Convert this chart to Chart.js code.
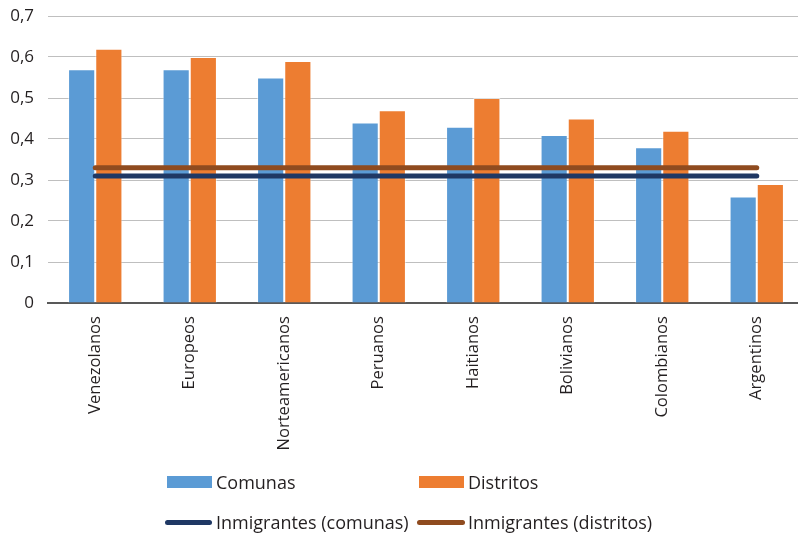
<!DOCTYPE html>
<html>
<head>
<meta charset="utf-8">
<script src="https://cdn.jsdelivr.net/npm/chart.js@4/dist/chart.umd.min.js"></script>
<style>
  html,body{margin:0;padding:0;background:#fff;overflow:hidden;}
  #wrap{position:relative;width:798px;height:536px;overflow:hidden;}
  canvas{position:absolute;left:0;top:0;}
  .lg{position:absolute;font-family:"Open Sans",sans-serif;font-size:18px;color:#231f20;line-height:22px;white-space:nowrap;}
  .sw{position:absolute;}
</style>
</head>
<body>
<div id="wrap">
  <canvas id="c" width="804" height="536"></canvas>
  <div class="sw" style="left:167px;top:476px;width:45px;height:12px;background:#5b9bd5;"></div>
  <div class="lg" style="left:216px;top:471px;">Comunas</div>
  <div class="sw" style="left:419px;top:476px;width:45px;height:12px;background:#ed7d31;"></div>
  <div class="lg" style="left:468px;top:471px;">Distritos</div>
  <div class="sw" style="left:165px;top:520px;width:47px;height:5px;border-radius:3px;background:#1f3864;"></div>
  <div class="lg" style="left:216px;top:511px;">Inmigrantes (comunas)</div>
  <div class="sw" style="left:417px;top:520px;width:48px;height:5px;border-radius:3px;background:#8f4b1f;"></div>
  <div class="lg" style="left:468px;top:511px;">Inmigrantes (distritos)</div>
</div>
<script>
const categories = ["Venezolanos","Europeos","Norteamericanos","Peruanos","Haitianos","Bolivianos","Colombianos","Argentinos"];
const comunas = [0.57,0.57,0.55,0.44,0.43,0.41,0.38,0.26];
const distritos = [0.62,0.60,0.59,0.47,0.50,0.45,0.42,0.29];
const inmigrantesComunas = [0.31,0.31,0.31,0.31,0.31,0.31,0.31,0.31];
const inmigrantesDistritos = [0.33,0.33,0.33,0.33,0.33,0.33,0.33,0.33];
const yTicks = [0,0.1,0.2,0.3,0.4,0.5,0.6,0.7];

new Chart(document.getElementById('c'), {
  data: {
    labels: categories,
    datasets: [
      {type:'line', label:'Inmigrantes (comunas)', data: inmigrantesComunas, borderColor:'#1f3864', borderWidth:5, pointRadius:0, borderCapStyle:'round', order:0},
      {type:'line', label:'Inmigrantes (distritos)', data: inmigrantesDistritos, borderColor:'#8f4b1f', borderWidth:5, pointRadius:0, borderCapStyle:'round', order:0},
      {type:'bar', label:'Comunas', data: comunas, backgroundColor:'#5b9bd5', borderColor:'rgba(255,255,255,0.5)', borderWidth:1, borderSkipped:'bottom', categoryPercentage:0.575, barPercentage:1, order:1},
      {type:'bar', label:'Distritos', data: distritos, backgroundColor:'#ed7d31', borderColor:'rgba(255,255,255,0.5)', borderWidth:1, borderSkipped:'bottom', categoryPercentage:0.575, barPercentage:1, order:1}
    ]
  },
  options: {
    responsive:false,
    animation:false,
    layout:{padding:{top:0,left:0,right:0,bottom:0}},
    plugins:{legend:{display:false}, tooltip:{enabled:false}},
    scales:{
      x:{
        grid:{display:false},
        border:{display:true,color:'#595959',width:2},
        ticks:{maxRotation:90,minRotation:90,padding:5,color:'#231f20',font:{family:'"Open Sans", sans-serif',size:16.6}},
        afterFit:(s)=>{s.height=233;s.paddingLeft=0;s.paddingRight=0;s.paddingTop=0;s.paddingBottom=0;}
      },
      y:{
        min:0,max:0.7,
        afterBuildTicks:(s)=>{s.ticks = yTicks.map(v=>({value:v}));},
        grid:{color:'#bfbfbf',lineWidth:1,drawTicks:false},
        border:{display:false},
        ticks:{padding:14,color:'#231f20',font:{family:'"Open Sans", sans-serif',size:17},
          callback:(v)=> (Math.round(v*10)/10).toString().replace('.',',')},
        afterFit:(s)=>{s.width=48;s.paddingTop=16;s.paddingBottom=0;}
      }
    }
  }
});
</script>
</body>
</html>
